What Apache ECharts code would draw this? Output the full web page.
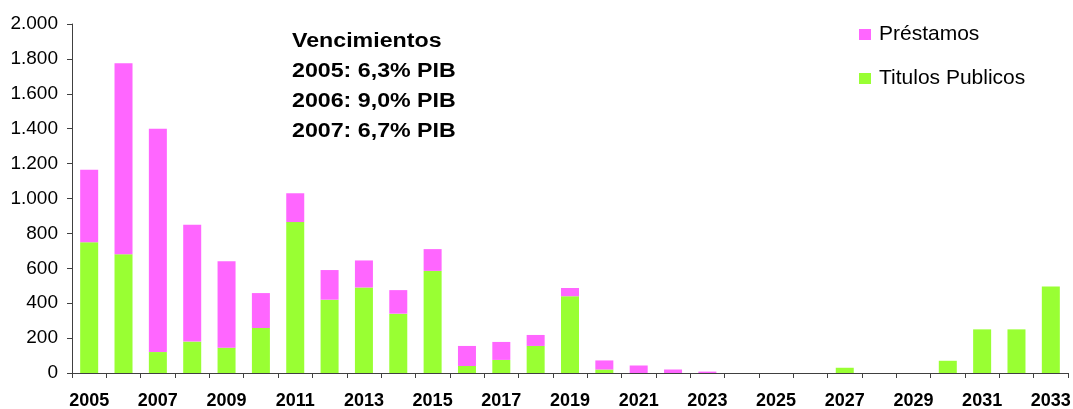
<!DOCTYPE html>
<html>
<head>
<meta charset="utf-8">
<script src="https://cdn.jsdelivr.net/npm/echarts@6/dist/echarts.min.js"></script>
<style>html,body{margin:0;padding:0;background:#fff}#c{width:1073px;height:409px}</style>
</head>
<body>
<div id="c"></div>
<script>
const years = ['2005','2006','2007','2008','2009','2010','2011','2012','2013','2014','2015','2016','2017','2018','2019','2020','2021','2022','2023','2024','2025','2026','2027','2028','2029','2030','2031','2032','2033'];
const titulosPublicos = [750,680,120,180,145,258,865,420,490,340,585,40,75,155,440,20,0,0,0,0,0,0,30,0,0,70,250,250,495];
const prestamos = [415,1095,1280,670,495,200,165,170,155,135,125,115,103,63,47,52,43,20,8,0,0,0,0,0,0,0,0,0,0];
const annotationLines = ['Vencimientos','2005: 6,3% PIB','2006: 9,0% PIB','2007: 6,7% PIB'];

const FONT = '"Liberation Sans", Arial, sans-serif';
const chart = echarts.init(document.getElementById('c'), null, {renderer:'canvas'});
const fmt = v => String(v).replace(/\B(?=(\d{3})+(?!\d))/g, '.');

chart.setOption({
  animation:false,
  backgroundColor:'#fff',
  grid:{left:72,right:5,top:24,bottom:36,containLabel:false,outerBoundsMode:'none'},
  legend:{
    orient:'vertical', left:859, top:24, padding:0, itemGap:23,
    itemWidth:12, itemHeight:11, icon:'rect', selectedMode:false,
    data:['Préstamos','Titulos Publicos'],
    textStyle:{fontFamily:FONT,fontSize:21,color:'#000',padding:[0,0,0,3]}
  },
  xAxis:{
    type:'category', data:years, boundaryGap:true,
    axisLine:{lineStyle:{color:'#404040',width:1}},
    axisTick:{show:true,interval:0,length:5,lineStyle:{color:'#404040'}},
    axisLabel:{interval:1,margin:19,color:'#000',fontFamily:FONT,fontSize:18,fontWeight:'bold'},
    splitLine:{show:false}
  },
  yAxis:{
    type:'value', min:0, max:2000, interval:200,
    axisLine:{show:true,lineStyle:{color:'#404040',width:1}},
    axisTick:{show:true,length:5,lineStyle:{color:'#404040'}},
    axisLabel:{margin:14,color:'#000',fontFamily:FONT,fontSize:19,formatter:fmt},
    splitLine:{show:false}
  },
  series:[
    {name:'Titulos Publicos',type:'bar',stack:'t',data:titulosPublicos,barWidth:18,itemStyle:{color:'#99FF33'}},
    {name:'Préstamos',type:'bar',stack:'t',data:prestamos,barWidth:18,itemStyle:{color:'#FF66FF'}}
  ],
  graphic: annotationLines.map((t,i)=>({
    type:'text', x:292, y:41.5+30*i, scaleX:1.16,
    style:{text:t, font:'bold 20px '+FONT, fill:'#000', textVerticalAlign:'middle', textAlign:'left'}
  }))
});
</script>
</body>
</html>
